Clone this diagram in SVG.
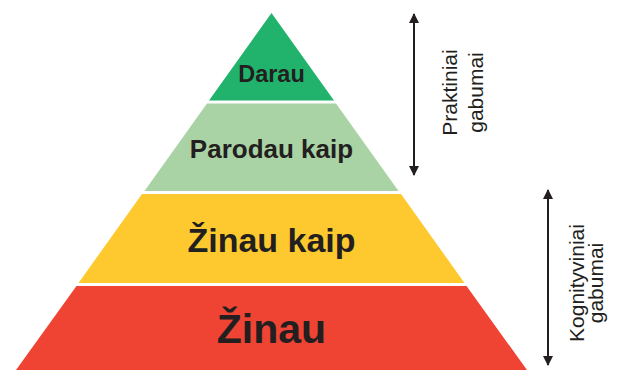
<svg xmlns="http://www.w3.org/2000/svg" width="620" height="372" viewBox="0 0 620 372">
<defs>
<style>
.lbl{font-family:"Liberation Sans",Arial,sans-serif;font-weight:bold;fill:#231f20;text-anchor:middle}
.side{font-family:"Liberation Sans",Arial,sans-serif;font-size:21px;fill:#231f20;text-anchor:middle}
.ax{stroke:#231f20;stroke-width:2;fill:none}
</style>
<marker id="ah" viewBox="0 0 10 10" refX="9" refY="5" markerWidth="5.5" markerHeight="5" orient="auto-start-reverse" markerUnits="strokeWidth">
<path d="M0,0 L10,5 L0,10 Z" fill="#231f20"/>
</marker>
</defs>
<rect width="620" height="372" fill="#ffffff"/>
<g id="darau">
<polygon points="271.5,13 334,100.5 209,100.5" fill="#21b36c"/>
<text class="lbl" x="271.5" y="82" font-size="23.5">Darau</text>
</g>
<g id="parodau-kaip">
<polygon points="207,103.5 336,103.5 398.5,191 144.5,191" fill="#a9d3a4"/>
<text class="lbl" x="271.5" y="158" font-size="26">Parodau kaip</text>
</g>
<g id="zinau-kaip">
<polygon points="142,194 401,194 464.5,283 78.5,283" fill="#fdc92f"/>
<text class="lbl" x="271.5" y="252" font-size="34">Žinau kaip</text>
</g>
<g id="zinau">
<polygon points="76.5,286 466.5,286 527,370 16,370" fill="#ef4433"/>
<text class="lbl" x="271.5" y="343" font-size="41">Žinau</text>
</g>
<g id="connectors">
<line class="ax" x1="414" y1="14" x2="414" y2="175" marker-start="url(#ah)" marker-end="url(#ah)"/>
<line class="ax" x1="548" y1="190" x2="548" y2="365" marker-start="url(#ah)" marker-end="url(#ah)"/>
</g>
<g id="praktiniai">
<text class="side" transform="translate(457,92.5) rotate(-90)">Praktiniai</text>
<text class="side" transform="translate(483,92.5) rotate(-90)">gabumai</text>
</g>
<g id="kognityviniai">
<text class="side" transform="translate(584,283) rotate(-90)">Kognityviniai</text>
<text class="side" transform="translate(603,283) rotate(-90)">gabumai</text>
</g>
</svg>
